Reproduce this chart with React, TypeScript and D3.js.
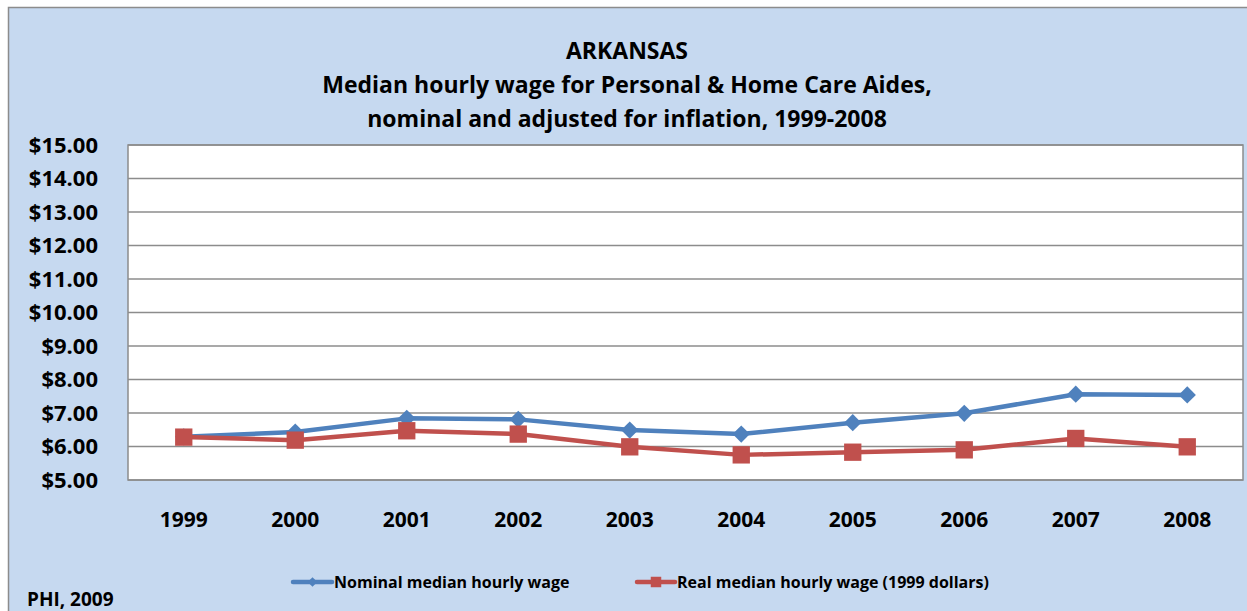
import React, { useEffect, useRef } from 'react';
import * as d3 from 'd3';

const years = ['1999', '2000', '2001', '2002', '2003', '2004', '2005', '2006', '2007', '2008'];
const nominal = [6.29, 6.43, 6.84, 6.81, 6.49, 6.37, 6.71, 6.99, 7.56, 7.54];
const real = [6.28, 6.19, 6.47, 6.37, 5.99, 5.75, 5.83, 5.90, 6.24, 5.99];
const yTicks = [5, 6, 7, 8, 9, 10, 11, 12, 13, 14, 15];
const titleLines = [
  'ARKANSAS',
  'Median hourly wage for Personal & Home Care Aides,',
  'nominal and adjusted for inflation, 1999-2008',
];
const seriesNames = ['Nominal median hourly wage', 'Real median hourly wage (1999 dollars)'];

const W = 1247;
const H = 611;
const FONT = '"Open Sans", sans-serif';
const BLUE = '#4f81bd';
const RED = '#c0504d';

const draw = (node) => {
  d3.select(node).selectAll('*').remove();
  const svg = d3.select(node).attr('width', W).attr('height', H);

  const margin = { top: 145, right: 4, bottom: 131, left: 128 };
  const width = W - margin.left - margin.right;
  const height = H - margin.top - margin.bottom;

  // chart background
  svg.append('rect')
    .attr('x', 8.5).attr('y', 7.5)
    .attr('width', W).attr('height', H)
    .attr('fill', '#c6d9f0')
    .attr('stroke', '#8c8c8c').attr('stroke-width', 1.5);

  svg.append('g')
    .selectAll('text')
    .data(titleLines)
    .enter()
    .append('text')
    .attr('x', 627)
    .attr('y', (d, i) => 59 + i * 34)
    .attr('text-anchor', 'middle')
    .attr('font-family', FONT)
    .attr('font-weight', 'bold')
    .attr('font-size', 23)
    .text(d => d);

  const g = svg.append('g').attr('transform', `translate(${margin.left}, ${margin.top})`);

  const x = d3.scaleBand().domain(years).range([0, width]);
  const y = d3.scaleLinear().domain([5, 15]).range([height, 0]);

  g.append('rect')
    .attr('width', width).attr('height', height)
    .attr('fill', '#fff');

  g.append('g')
    .selectAll('line')
    .data(yTicks)
    .enter()
    .append('line')
    .attr('x1', 0).attr('x2', width)
    .attr('y1', d => y(d)).attr('y2', d => y(d))
    .attr('stroke', '#8c8c8c').attr('stroke-width', 1.5);

  g.append('rect')
    .attr('width', width).attr('height', height)
    .attr('fill', 'none')
    .attr('stroke', '#8c8c8c').attr('stroke-width', 1.5);

  // y axis labels
  g.append('g')
    .selectAll('text')
    .data(yTicks)
    .enter()
    .append('text')
    .attr('x', -30)
    .attr('y', d => y(d))
    .attr('dy', '0.36em')
    .attr('text-anchor', 'end')
    .attr('font-family', FONT)
    .attr('font-weight', 'bold')
    .attr('font-size', 22)
    .text(d => d3.format('$.2f')(d));

  // x axis labels
  g.append('g')
    .selectAll('text')
    .data(years)
    .enter()
    .append('text')
    .attr('x', d => x(d) + x.bandwidth() / 2)
    .attr('y', height + 47)
    .attr('text-anchor', 'middle')
    .attr('font-family', FONT)
    .attr('font-weight', 'bold')
    .attr('font-size', 21)
    .text(d => d);

  const line = d3.line()
    .x((d, i) => x(years[i]) + x.bandwidth() / 2)
    .y(d => y(d));

  const diamond = d3.symbol().type(d3.symbolDiamond2).size(190);
  const square = d3.symbol().type(d3.symbolSquare).size(300);

  [[nominal, BLUE, diamond], [real, RED, square]].forEach(([vals, color, sym]) => {
    g.append('path')
      .attr('d', line(vals))
      .attr('fill', 'none')
      .attr('stroke', color)
      .attr('stroke-width', 4.5)
      .attr('stroke-linejoin', 'round');
    g.append('g')
      .selectAll('path')
      .data(vals)
      .enter()
      .append('path')
      .attr('transform', (d, i) => `translate(${x(years[i]) + x.bandwidth() / 2}, ${y(d)})`)
      .attr('d', sym())
      .attr('fill', color);
  });

  // legend
  const legend = svg.append('g').attr('transform', 'translate(0, 582)');
  const items = [
    { x0: 293, x1: 332, color: BLUE, sym: d3.symbol().type(d3.symbolDiamond2).size(60) },
    { x0: 637, x1: 675, color: RED, sym: d3.symbol().type(d3.symbolSquare).size(110) },
  ];
  items.forEach((it, i) => {
    legend.append('line')
      .attr('x1', it.x0).attr('x2', it.x1)
      .attr('stroke', it.color).attr('stroke-width', 4.5)
      .attr('stroke-linecap', 'round');
    legend.append('path')
      .attr('transform', `translate(${(it.x0 + it.x1) / 2}, 0)`)
      .attr('d', it.sym())
      .attr('fill', it.color);
    legend.append('text')
      .attr('x', it.x1 + 2)
      .attr('dy', '0.36em')
      .attr('font-family', FONT)
      .attr('font-weight', 'bold')
      .attr('font-size', 16)
      .text(seriesNames[i]);
  });

  svg.append('text')
    .attr('x', 27).attr('y', 606)
    .attr('font-family', FONT)
    .attr('font-weight', 'bold')
    .attr('font-size', 19)
    .text('PHI, 2009');
};

export default function App() {
  const ref = useRef(null);
  useEffect(() => {
    draw(ref.current);
  }, []);
  return (
    <svg ref={ref} style={{ position: 'absolute', left: 0, top: 0, display: 'block' }} />
  );
}
